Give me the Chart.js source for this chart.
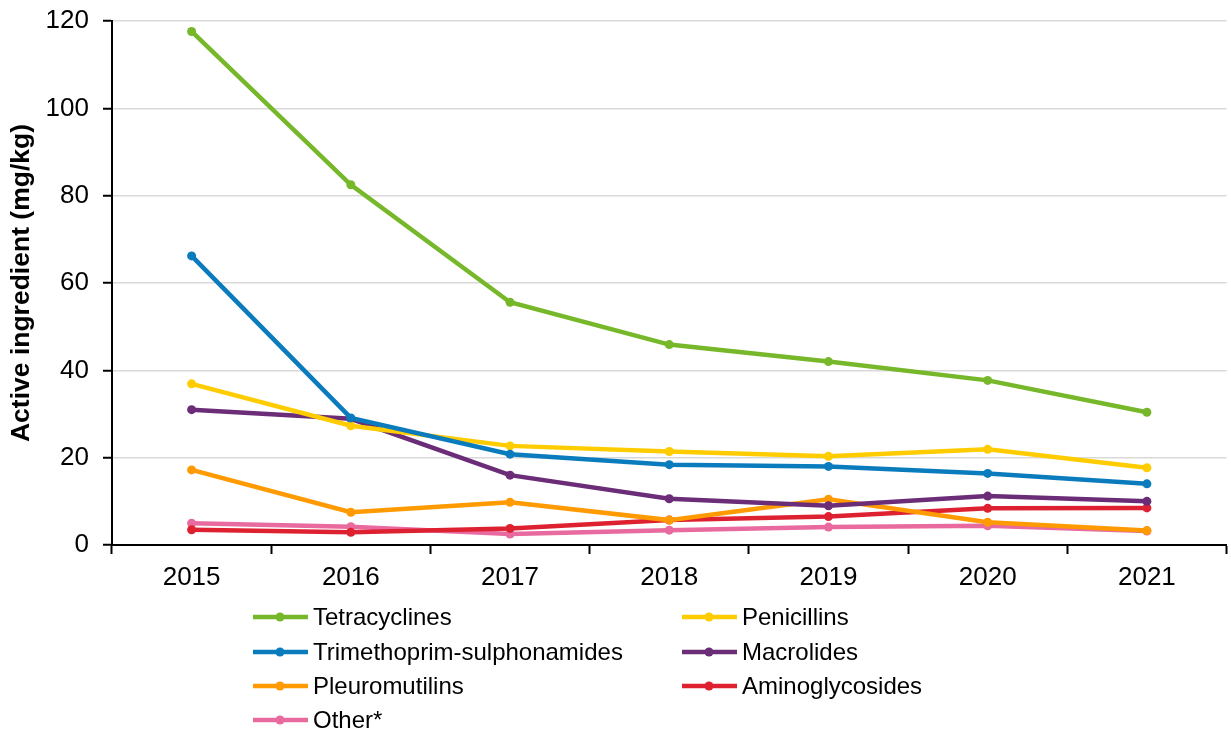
<!DOCTYPE html>
<html>
<head>
<meta charset="utf-8">
<script src="https://cdn.jsdelivr.net/npm/chart.js@4/dist/chart.umd.min.js"></script>
<style>
  body { margin: 0; background: #fff; }
  #wrap { position: relative; width: 1231px; height: 731px; }
  #legend { position: absolute; left: 253px; top: 600px; width: 700px;
    display: grid; grid-template-columns: 429px 260px; grid-auto-rows: 34.4px;
    font-family: "Liberation Sans", Arial, sans-serif; font-size: 24px; color: #000; }
  .item { display: flex; align-items: center; white-space: nowrap; }
  .item svg { margin-right: 5px; flex: none; }
</style>
</head>
<body>
<div id="wrap">
  <canvas id="chart" width="1231" height="731"></canvas>
  <div id="legend"></div>
</div>
<script>
var years = ['2015', '2016', '2017', '2018', '2019', '2020', '2021'];

var tetracyclines = [117.6, 82.5, 55.6, 45.9, 42.0, 37.7, 30.4];
var penicillins = [36.9, 27.3, 22.7, 21.4, 20.3, 21.9, 17.7];
var trimethoprim = [66.2, 29.1, 20.8, 18.4, 18.0, 16.4, 14.0];
var macrolides = [31.0, 28.9, 16.0, 10.6, 9.0, 11.2, 10.0];
var pleuromutilins = [17.2, 7.5, 9.8, 5.7, 10.5, 5.2, 3.3];
var aminoglycosides = [3.5, 2.9, 3.8, 5.7, 6.5, 8.4, 8.5];
var other = [5.0, 4.2, 2.5, 3.4, 4.1, 4.4, 3.2];

var yTicks = [0, 20, 40, 60, 80, 100, 120];

// legend order: left column then right column, row by row
var series = [
    {label: 'Tetracyclines', data: tetracyclines, color: '#77b82a'},
    {label: 'Penicillins', data: penicillins, color: '#ffcc00'},
    {label: 'Trimethoprim-sulphonamides', data: trimethoprim, color: '#0a7cbd'},
    {label: 'Macrolides', data: macrolides, color: '#6b2d77'},
    {label: 'Pleuromutilins', data: pleuromutilins, color: '#ff9a00'},
    {label: 'Aminoglycosides', data: aminoglycosides, color: '#de2131'},
    {label: 'Other*', data: other, color: '#e96a9e'}
];

// draw order in the plot (pink under red etc.)
var drawOrder = ['Other*', 'Aminoglycosides', 'Pleuromutilins', 'Macrolides',
    'Penicillins', 'Trimethoprim-sulphonamides', 'Tetracyclines'];

var datasets = [];
for (let s of series) {
    datasets.push({
        label: s.label,
        data: s.data,
        borderColor: s.color,
        backgroundColor: s.color,
        pointBackgroundColor: s.color,
        borderWidth: 4.5,
        pointRadius: 4.5,
        pointBorderWidth: 0,
        pointHoverRadius: 4.5,
        tension: 0,
        order: drawOrder.indexOf(s.label) * -1
    });
}

var font = "'Liberation Sans', Arial, sans-serif";

new Chart(document.getElementById('chart').getContext('2d'), {
    type: 'line',
    data: { labels: years, datasets: datasets },
    options: {
        responsive: false,
        animation: false,
        layout: { padding: { left: 0, top: 21, right: 3, bottom: 131 } },
        plugins: { legend: { display: false }, tooltip: { enabled: false } },
        scales: {
            x: {
                offset: true,
                grid: { offset: true, drawOnChartArea: false, tickLength: 9, tickColor: '#000', tickWidth: 2 },
                border: { color: '#000', width: 2 },
                ticks: { color: '#000', font: { family: font, size: 26 }, padding: 8, maxRotation: 0 },
                afterFit: function (scale) { scale.height = 55; }
            },
            y: {
                min: 0,
                max: 120,
                afterBuildTicks: function (scale) {
                    scale.ticks = yTicks.map(function (v) { return {value: v}; });
                },
                grid: { color: '#d9d9d9', lineWidth: 1.5, tickLength: 9, tickColor: '#000', tickWidth: 2 },
                border: { color: '#000', width: 2 },
                ticks: { color: '#000', font: { family: font, size: 26 }, padding: 14 },
                title: {
                    display: true,
                    text: 'Active ingredient (mg/kg)',
                    color: '#000',
                    font: { family: font, size: 26.5, weight: 'bold' },
                    padding: { top: 6, bottom: 0 }
                },
                afterFit: function (scale) {
                    scale.width = 112;
                    scale.paddingTop = 0;
                    scale.paddingBottom = 0;
                }
            }
        }
    }
});

// two-column legend
var legend = document.getElementById('legend');
for (let s of series) {
    var item = document.createElement('div');
    item.className = 'item';
    item.innerHTML = '<svg width="55" height="10"><line x1="0" y1="5" x2="55" y2="5" stroke="' + s.color +
        '" stroke-width="4.5"/><circle cx="27" cy="5" r="4.5" fill="' + s.color + '"/></svg><span>' + s.label + '</span>';
    legend.appendChild(item);
}
</script>
</body>
</html>
